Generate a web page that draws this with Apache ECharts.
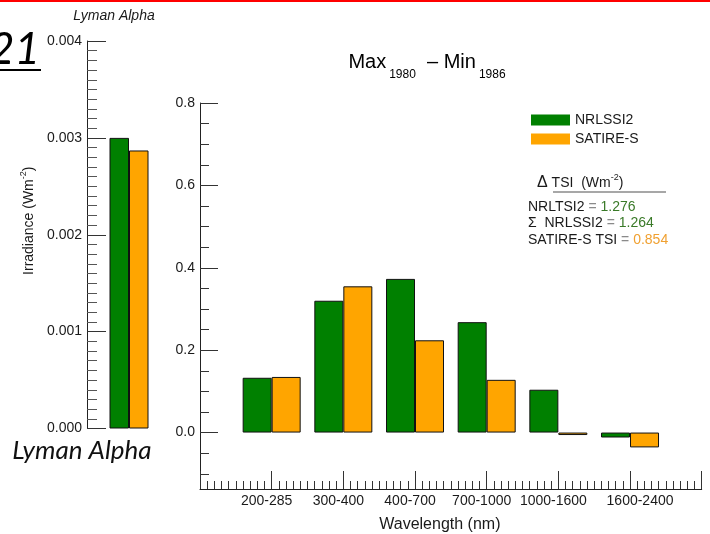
<!DOCTYPE html>
<html><head><meta charset="utf-8">
<script src="https://cdn.jsdelivr.net/npm/echarts@6/dist/echarts.min.js"></script>
<style>html,body{margin:0;padding:0;background:#fff}#c{width:710px;height:534px}</style>
</head><body><div id="c"></div>
<script>
// ---- data ----
const lymanCategories = ['Lyman Alpha'];
const lymanNRLSSI2 = [0.0030];
const lymanSATIRE = [0.00287];
const bandCategories = ['200-285', '300-400', '400-700', '700-1000', '1000-1600', '1600-2400'];
const bandPositions = [1, 2, 3, 4, 5, 6];
const bandNRLSSI2 = [0.133, 0.320, 0.373, 0.268, 0.104, -0.012];
const bandSATIRE = [0.135, 0.355, 0.224, 0.128, -0.006, -0.036];
const leftTickLabels = ['0.000', '0.001', '0.002', '0.003', '0.004'];
const rightTickValues = [0, 0.2, 0.4, 0.6, 0.8];
const rightMinorTickValues = [-0.1, -0.05, 0.05, 0.1, 0.15, 0.25, 0.3, 0.35, 0.45, 0.5, 0.55, 0.65, 0.7, 0.75];
const tsiNRLTSI2 = '1.276';
const tsiSumNRLSSI2 = '1.264';
const tsiSATIRE = '0.854';

const GREEN = '#008000', ORANGE = '#FFA500';
const FONT = 'Liberation Sans, Arial, sans-serif';
const TXT = '#1a1a1a';

const chart = echarts.init(document.getElementById('c'));
const barBorder = { borderColor: '#111', borderWidth: 1 };
const lineRich = (valKey, valColor) => ({
  a: { fontSize: 14, fontFamily: FONT, fill: TXT },
  e: { fontSize: 14, fontFamily: FONT, fill: '#8a8a8a' },
  [valKey]: { fontSize: 14, fontFamily: FONT, fill: valColor }
});
const catStyle = { fontSize: 14, fontFamily: FONT, color: TXT };

chart.setOption({
  backgroundColor: '#fff',
  animation: false,
  textStyle: { fontFamily: FONT },
  grid: [
    { left: 87, top: 41, width: 84, bottom: 105.5, containLabel: false, outerBoundsMode: 'none' },
    { left: 200, top: 103, right: 8.3, bottom: 45, containLabel: false, outerBoundsMode: 'none' }
  ],
  legend: {
    data: ['NRLSSI2', 'SATIRE-S'],
    orient: 'vertical',
    left: 526, top: 108,
    itemWidth: 39, itemHeight: 11, itemGap: 5,
    icon: 'rect',
    itemStyle: { borderWidth: 0 },
    textStyle: { fontSize: 14, color: TXT, fontFamily: FONT, lineHeight: 14 }
  },
  xAxis: [
    { gridIndex: 0, type: 'category', data: lymanCategories,
      axisLine: { show: false }, axisTick: { show: false }, axisLabel: { show: false } },
    { gridIndex: 1, type: 'value', min: 0, max: 7, interval: 1,
      name: 'Wavelength (nm)', nameLocation: 'middle', nameGap: 28,
      nameTextStyle: { fontSize: 16, color: TXT, fontFamily: FONT, padding: [0, 22, 0, 0] },
      axisLine: { show: true, onZero: false, lineStyle: { color: '#222', width: 1 } },
      axisTick: { show: true, inside: true, length: 18, lineStyle: { color: '#333' } },
      minorTick: { show: true, splitNumber: 10, length: 8, lineStyle: { color: '#333' } },
      splitLine: { show: false },
      axisLabel: { fontSize: 14, color: TXT, margin: 5,
        rich: {
          L: Object.assign({ padding: [0, 10, 0, 0] }, catStyle),
          R: Object.assign({ padding: [0, 0, 0, 20] }, catStyle)
        },
        formatter: v => {
          const i = bandPositions.indexOf(v);
          if (i < 0) return '';
          return (i === bandPositions.length - 1 ? '{R|' : '{L|') + bandCategories[i] + '}';
        } } }
  ],
  yAxis: [
    { gridIndex: 0, type: 'value', min: 0, max: 0.004, interval: 0.001,
      name: '{a|Irradiance (Wm}{s|-2}{a|)}', nameLocation: 'middle', nameGap: 51,
      nameTextStyle: { color: TXT, padding: [0, 0, 0, 28], rich: { a: { fontSize: 14, color: TXT, fontFamily: FONT, verticalAlign: 'bottom', lineHeight: 17 }, s: { fontSize: 9, color: TXT, fontFamily: FONT, verticalAlign: 'top', lineHeight: 10 } } },
      axisLine: { show: true, onZero: false, lineStyle: { color: '#222' } },
      axisTick: { show: true, inside: true, length: 19, lineStyle: { color: '#333' } },
      minorTick: { show: true, splitNumber: 10, length: 10, lineStyle: { color: '#555' } },
      splitLine: { show: false },
      axisLabel: { fontSize: 14, color: TXT, margin: 5, formatter: v => leftTickLabels[Math.round(v * 1000)] } },
    { gridIndex: 1, type: 'value', min: -0.137, max: 0.8, position: 'left',
      axisLine: { show: true, onZero: false, lineStyle: { color: '#222' } },
      axisTick: { show: true, inside: true, length: 18, customValues: rightTickValues, lineStyle: { color: '#333' } },
      axisLabel: { customValues: rightTickValues, fontSize: 14, color: TXT, margin: 5, formatter: v => v.toFixed(1) },
      splitLine: { show: false } },
    { gridIndex: 1, type: 'value', min: -0.137, max: 0.8, position: 'left', offset: 0,
      axisLine: { show: false },
      axisTick: { show: true, inside: true, length: 9, customValues: rightMinorTickValues, lineStyle: { color: '#333' } },
      axisLabel: { show: false },
      splitLine: { show: false } }
  ],
  series: [
    { name: 'NRLSSI2', type: 'bar', xAxisIndex: 0, yAxisIndex: 0, data: lymanNRLSSI2,
      barWidth: 19.5, barGap: '0%', itemStyle: Object.assign({ color: GREEN }, barBorder) },
    { name: 'SATIRE-S', type: 'bar', xAxisIndex: 0, yAxisIndex: 0, data: lymanSATIRE,
      barWidth: 19.5, barGap: '0%', itemStyle: Object.assign({ color: ORANGE }, barBorder) },
    { name: 'NRLSSI2', type: 'bar', xAxisIndex: 1, yAxisIndex: 1,
      data: bandPositions.map((p, i) => [p, bandNRLSSI2[i]]),
      barWidth: 29, barGap: '0%', itemStyle: Object.assign({ color: GREEN }, barBorder) },
    { name: 'SATIRE-S', type: 'bar', xAxisIndex: 1, yAxisIndex: 1,
      data: bandPositions.map((p, i) => [p, bandSATIRE[i]]),
      barWidth: 29, barGap: '0%', itemStyle: Object.assign({ color: ORANGE }, barBorder) }
  ],
  graphic: [
    { type: 'rect', shape: { x: 0, y: 0, width: 710, height: 2 }, style: { fill: '#ff0000' } },
    { type: 'text', style: { text: '21', x: 40, y: 50, align: 'right', verticalAlign: 'middle',
        font: 'italic 44px Lato, "Open Sans", sans-serif', fill: '#000' } },
    { type: 'rect', shape: { x: 0, y: 69, width: 41, height: 2 }, style: { fill: '#000' } },
    { type: 'text', style: { text: 'Lyman Alpha', x: 114, y: 16, align: 'center', verticalAlign: 'middle',
        font: 'italic 14px ' + FONT, fill: TXT } },
    { type: 'text', style: { text: 'Lyman Alpha', x: 82, y: 451, align: 'center', verticalAlign: 'middle',
        font: 'italic 26px Lato, "Open Sans", sans-serif', fill: '#111' } },
    { type: 'text', style: { text: '{m|Max}{s|1980}{m|  – Min}{s|1986}', x: 427, y: 52, align: 'center', verticalAlign: 'top',
        rich: { m: { fontSize: 20, fontFamily: FONT, fill: '#000', lineHeight: 22, verticalAlign: 'top' },
                s: { fontSize: 12, fontFamily: FONT, fill: '#000', lineHeight: 12, verticalAlign: 'top', padding: [17, 0, 0, 3] } } } },
    { type: 'text', style: { text: '{d|Δ}{a| TSI  (Wm}{s|-2}{a|)}', x: 537, y: 182, align: 'left', verticalAlign: 'middle',
        rich: { d: { fontSize: 16, fontFamily: FONT, fill: TXT, lineHeight: 17, verticalAlign: 'bottom' },
                a: { fontSize: 14, fontFamily: FONT, fill: TXT, lineHeight: 17, verticalAlign: 'bottom' },
                s: { fontSize: 9, fontFamily: FONT, fill: TXT, lineHeight: 10, verticalAlign: 'top' } } } },
    { type: 'line', shape: { x1: 553, y1: 192, x2: 666, y2: 192 }, style: { stroke: '#8a8a8a', lineWidth: 1.5 } },
    { type: 'text', style: { text: '{a|NRLTSI2 }{e|=}{g| ' + tsiNRLTSI2 + '}', x: 528, y: 207, align: 'left', verticalAlign: 'middle',
        rich: lineRich('g', '#3a7a28') } },
    { type: 'text', style: { text: '{a|Σ  NRLSSI2 }{e|=}{g| ' + tsiSumNRLSSI2 + '}', x: 528, y: 223, align: 'left', verticalAlign: 'middle',
        rich: lineRich('g', '#3a7a28') } },
    { type: 'text', style: { text: '{a|SATIRE-S TSI }{e|=}{o| ' + tsiSATIRE + '}', x: 528, y: 240, align: 'left', verticalAlign: 'middle',
        rich: lineRich('o', '#F0A030') } }
  ]
});
</script></body></html>
